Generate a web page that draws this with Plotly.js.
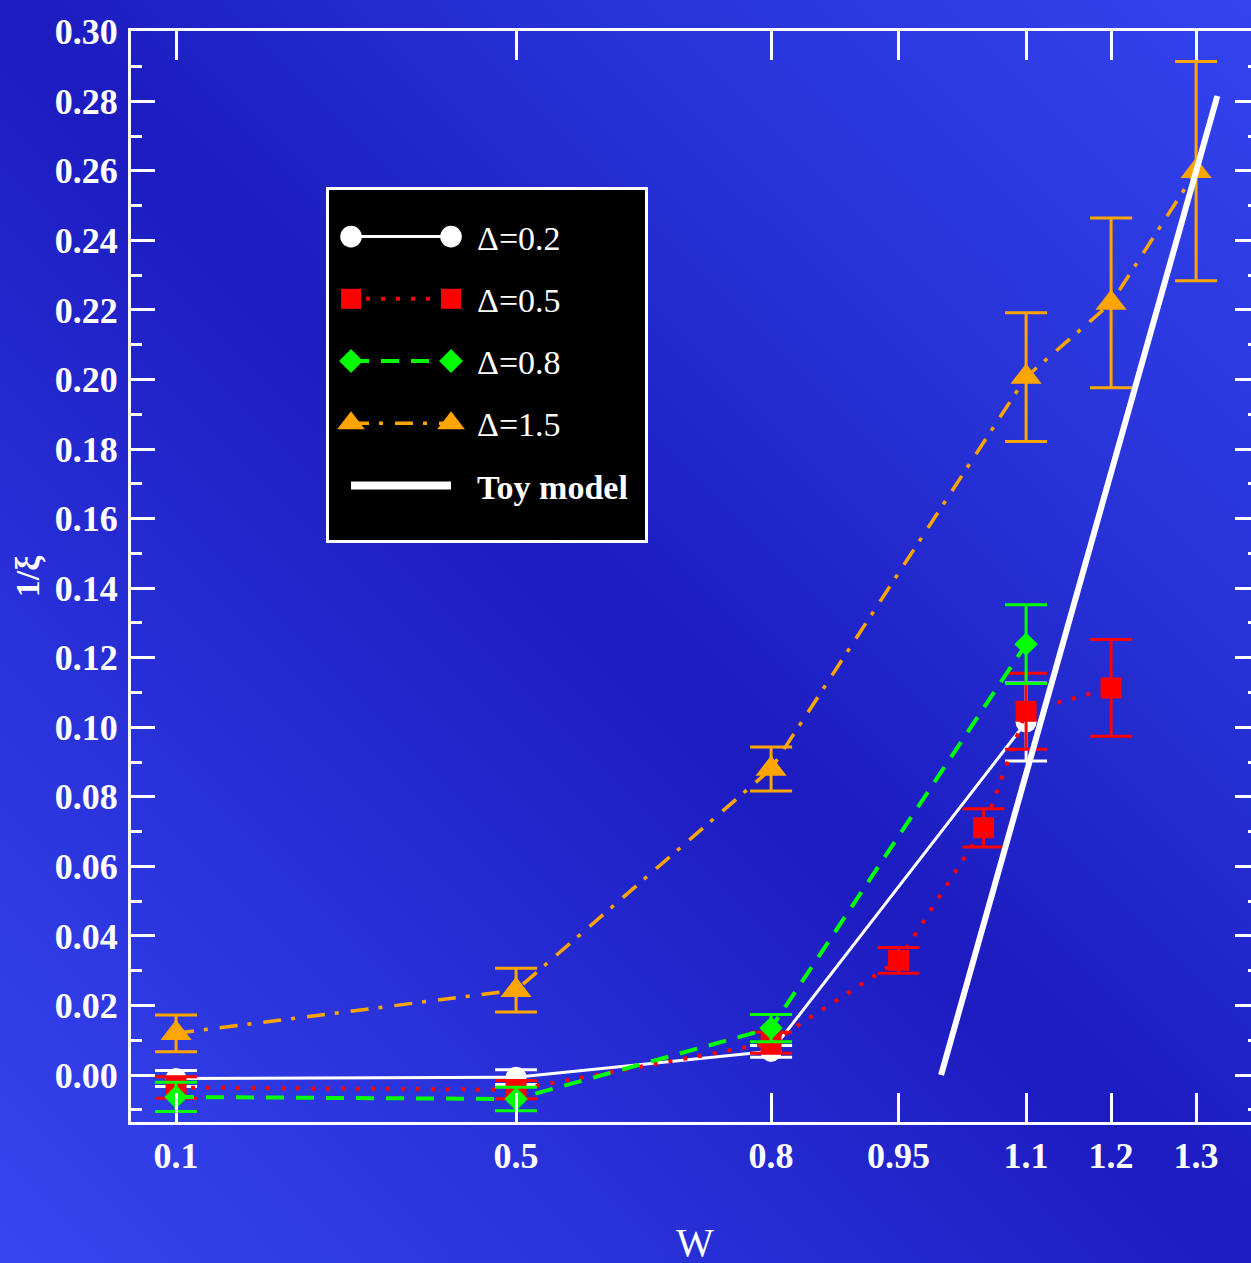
<!DOCTYPE html>
<html><head><meta charset="utf-8">
<script src="https://cdn.plot.ly/plotly-3.0.1.min.js"></script>
<style>
html,body{margin:0;padding:0;width:1251px;height:1263px;overflow:hidden;}
body{background: linear-gradient(45deg, #3646f0 0%, #2a32da 25%, #1c1cc0 50%, #2834d8 75%, #3343ee 100%);}
#plot{width:1270px;height:1280px;}
</style></head><body><div id="plot"></div>
<script>
// Data
const wTicks = [0.1, 0.5, 0.8, 0.95, 1.1, 1.2, 1.3];
const wTickText = ['0.1', '0.5', '0.8', '0.95', '1.1', '1.2', '1.3'];

const d02_w = [0.1, 0.5, 0.8, 1.1];
const d02_inv = [-0.0010, -0.0006, 0.0068, 0.1015];
const d02_err = [0.0023, 0.0021, 0.0017, 0.0112];

const d05_w = [0.1, 0.5, 0.8, 0.95, 1.05, 1.1, 1.2];
const d05_inv = [-0.0036, -0.0042, 0.0093, 0.0330, 0.0711, 0.1046, 0.1113];
const d05_err = [0.0031, 0.0026, 0.0030, 0.0037, 0.0055, 0.0109, 0.0139];

const d08_w = [0.1, 0.5, 0.8, 1.1];
const d08_inv = [-0.0063, -0.0069, 0.0135, 0.1239];
const d08_err = [0.0042, 0.0034, 0.0039, 0.0113];

const d15_w = [0.1, 0.5, 0.8, 1.1, 1.2, 1.3];
const d15_inv = [0.0120, 0.0244, 0.0880, 0.2007, 0.2220, 0.2599];
const d15_err = [0.0053, 0.0063, 0.0063, 0.0185, 0.0244, 0.0315];

const toy_w = [1.0, 1.325];
const toy_inv = [0.0, 0.2815];

const seriesNames = ['Δ=0.2', 'Δ=0.5', 'Δ=0.8', 'Δ=1.5', '<b>Toy model</b>'];

function errBar(arr, color) {
  return {type: 'data', array: arr, visible: true, color: color, thickness: 3, width: 21};
}

const traces = [
  {x: d02_w, y: d02_inv, name: seriesNames[0], legendgroup: 'g1', mode: 'lines+markers', type: 'scatter',
   line: {color: 'white', width: 3}, marker: {symbol: 'circle', size: 21, color: 'white'},
   error_y: errBar(d02_err, 'white')},
  {x: d05_w, y: d05_inv, name: seriesNames[1], legendgroup: 'g2', mode: 'lines+markers', type: 'scatter',
   line: {color: '#ff0000', width: 4, dash: '4px,11px'}, marker: {symbol: 'square', size: 21, color: '#ff0000'},
   error_y: errBar(d05_err, '#ff0000')},
  {x: d08_w, y: d08_inv, name: seriesNames[2], legendgroup: 'g3', mode: 'lines+markers', type: 'scatter',
   line: {color: '#00ff00', width: 4, dash: '18px,12px'}, marker: {symbol: 'diamond', size: 18, color: '#00ff00'},
   error_y: errBar(d08_err, '#00ff00')},
  {x: d15_w, y: d15_inv, name: seriesNames[3], legendgroup: 'g4', mode: 'lines+markers', type: 'scatter',
   line: {color: '#ffa500', width: 3.5, dash: '18px,10px,4px,12px'}, marker: {symbol: 'triangle-up', size: 27, color: '#ffa500'},
   error_y: errBar(d15_err, '#ffa500')},
  {x: toy_w, y: toy_inv, name: seriesNames[4], legendgroup: 'g5', mode: 'lines', type: 'scatter',
   line: {color: 'white', width: 6}}
];

const layout = {
  width: 1270, height: 1280,
  margin: {l: 131, r: 11, t: 31, b: 158},
  paper_bgcolor: 'rgba(0,0,0,0)', plot_bgcolor: 'rgba(0,0,0,0)',
  font: {family: '"Liberation Serif", "Times New Roman", serif', color: 'white'},
  showlegend: true,
  legend: {x: 0.1729, y: 0.857, xanchor: 'left', yanchor: 'top', bgcolor: 'black',
    bordercolor: 'white', borderwidth: 3, font: {size: 34, color: 'white'},
    itemwidth: 138, tracegroupgap: 15},
  xaxis: {range: [0.047, 1.374], tickmode: 'array', tickvals: wTicks, ticktext: wTickText,
    ticks: 'inside', ticklen: 29, tickwidth: 3, tickcolor: 'white',
    showline: true, linewidth: 3, linecolor: 'white', mirror: 'ticks',
    showgrid: false, zeroline: false, ticklabelstandoff: 0,
    tickfont: {size: 36, color: 'white', weight: 'bold'},
    title: {text: 'W', font: {size: 40, color: 'white'}, standoff: 53}},
  yaxis: {range: [-0.0135, 0.3002], tick0: 0, dtick: 0.02, tickformat: '.2f',
    ticks: 'inside', ticklen: 24, tickwidth: 3, tickcolor: 'white',
    minor: {tick0: 0, dtick: 0.01, ticks: 'inside', ticklen: 11, tickwidth: 3, tickcolor: 'white', showgrid: false},
    showline: true, linewidth: 3, linecolor: 'white', mirror: 'ticks',
    showgrid: false, zeroline: false, ticklabelstandoff: 3,
    tickfont: {size: 36, color: 'white', weight: 'bold'},
    title: {text: '1/ξ', font: {size: 34, color: 'white', weight: 'bold'}, standoff: 5}}
};

const legendScale = [1.35, 1.25, 1.15, 1.5, 1];

Plotly.newPlot('plot', traces, layout, {staticPlot: true}).then(function (gd) {
  // legend samples drawn as marker-line-marker like the original
  gd.querySelectorAll('.legend g.traces').forEach(function (g, i) {
    const d = g.__data__;
    const idx = (d && d[0] && d[0].trace) ? d[0].trace.index : i;
    const ln = g.querySelector('g.legendlines path');
    if (ln) {
      ln.setAttribute('d', 'M22,0h100');
      if (idx === 4) ln.style.strokeWidth = '8px';
    }
    g.querySelectorAll('g.legendpoints path.scatterpts').forEach(function (p) {
      const s = legendScale[idx] || 1;
      p.setAttribute('transform', 'translate(22,0) scale(' + s + ')');
      const c = p.cloneNode(true);
      c.setAttribute('transform', 'translate(122,0) scale(' + s + ')');
      p.parentNode.appendChild(c);
    });
  });
  // extra padding inside the legend box
  const bg = gd.querySelector('.legend rect.bg');
  if (bg) {
    bg.setAttribute('height', parseFloat(bg.getAttribute('height')) + 44);
    bg.setAttribute('width', parseFloat(bg.getAttribute('width')) + 12);
  }
  const sb = gd.querySelector('.legend g.scrollbox');
  if (sb) {
    const t = sb.getAttribute('transform') || '';
    sb.setAttribute('transform', t + ' translate(0,18)');
  }
});
</script></body></html>
